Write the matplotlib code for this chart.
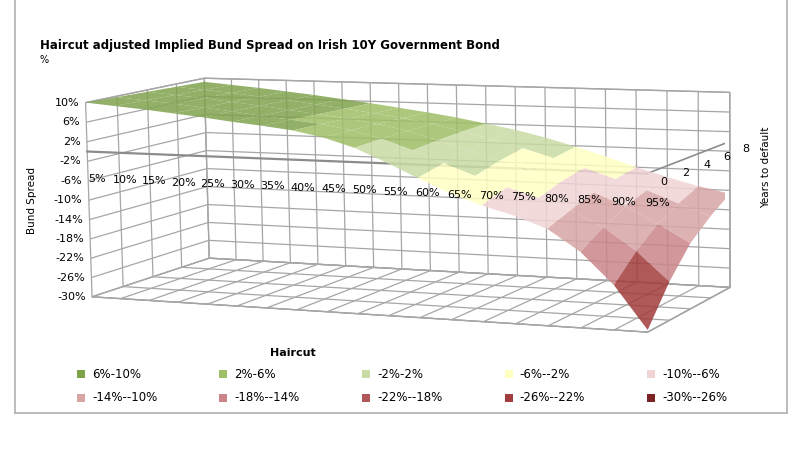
import matplotlib
matplotlib.use("Agg")
import matplotlib.pyplot as plt
from matplotlib.colors import ListedColormap, BoundaryNorm
from matplotlib.lines import Line2D
from matplotlib.patches import Rectangle
from mpl_toolkits.mplot3d import proj3d
import numpy as np

# haircut (%) along the front, years to default going back
haircut = [5, 10, 15, 20, 25, 30, 35, 40, 45, 50, 55, 60, 65, 70, 75, 80, 85, 90, 95]
years = [0, 2, 4, 6, 8]

# implied bund spread (%), one row per years-to-default value
spread_y0 = [10.0, 9.5, 9.0, 8.4, 7.8, 7.1, 6.5, 5.8, 4.6, 2.8, 0.2, -2.6, -5.3, -7.4, -9.1, -11.3, -15.4, -21.4, -29.6]
spread_y2 = [9.8, 9.3, 8.8, 8.2, 7.6, 6.9, 6.3, 5.6, 4.6, 3.1, 1.0, -1.3, -3.6, -5.6, -7.4, -9.5, -12.6, -16.9, -22.5]
spread_y4 = [9.6, 9.1, 8.6, 8.0, 7.4, 6.7, 6.0, 5.3, 4.4, 3.2, 1.5, -0.3, -2.2, -4.0, -5.8, -7.8, -10.3, -13.5, -17.0]
spread_y6 = [9.4, 8.9, 8.4, 7.8, 7.2, 6.5, 5.8, 5.0, 4.2, 3.2, 1.8, 0.4, -1.2, -3.0, -4.8, -6.8, -8.8, -11.2, -13.5]
spread_y8 = [9.2, 8.7, 8.2, 7.6, 7.0, 6.3, 5.6, 4.8, 4.0, 3.1, 2.0, 0.9, -0.5, -2.2, -4.0, -6.0, -7.8, -9.4, -10.7]

# colour bands, lowest first
levels = [-30, -26, -22, -18, -14, -10, -6, -2, 2, 6, 10]
band_colors = ["#7d2222", "#a33c3c", "#b05858", "#c98589", "#d8a5a5",
               "#f2d4d4", "#ffffc2", "#c8dba4", "#9fbf66", "#7fa24c"]

TITLE = "Haircut adjusted Implied Bund Spread on Irish 10Y Government Bond"
GRID = "#a6a6a6"
W, H = 800, 467

plt.rcParams["font.family"] = ["DejaVu Sans"]


def band_label(lo, hi):
    return f"{lo}%-{hi}%"


def to_fig(ax, fig, x, y, z):
    """Project a 3D data point to figure coordinates."""
    px, py, _ = proj3d.proj_transform(x, y, z, ax.get_proj())
    disp = ax.transData.transform((px, py))
    return fig.transFigure.inverted().transform(disp)


def main():
    fig = plt.figure(figsize=(8, 4.67), dpi=100)

    ax = fig.add_axes([-0.155, -0.134, 1.31, 1.394], projection="3d")
    ax.set_proj_type("persp", focal_length=0.8)
    ax.view_init(elev=8, azim=-66, roll=1.0)
    ax.set_box_aspect((4.8, 2.05, 1.6))

    X, Y = np.meshgrid(haircut, years)
    Z = np.array([spread_y0, spread_y2, spread_y4, spread_y6, spread_y8])

    cmap = ListedColormap(band_colors)
    norm = BoundaryNorm(levels, cmap.N)
    ax.plot_surface(X, Y, Z, cmap=cmap, norm=norm, shade=False, alpha=0.85)

    x0, x1 = haircut[0], haircut[-1]
    y0, y1 = years[0], years[-1]
    ax.set_xlim(x0, x1)
    ax.set_ylim(y0, y1)
    ax.set_zlim(levels[0], levels[-1])
    ax.set_xticks(haircut)
    ax.set_yticks(years)
    ax.set_zticks(levels)
    ax.set_xticklabels([])
    ax.set_yticklabels([])
    ax.set_zticklabels([])

    for axis in (ax.xaxis, ax.yaxis, ax.zaxis):
        axis.set_pane_color((1, 1, 1, 1))
        axis.pane.set_edgecolor(GRID)
        axis.line.set_color(GRID)
        axis._axinfo["tick"]["inward_factor"] = 0
        axis._axinfo["tick"]["outward_factor"] = 0
        axis._axinfo["grid"]["color"] = GRID
        axis._axinfo["grid"]["linewidth"] = 0.9

    # axis lines crossing at zero
    ax.plot([x0, x1], [y0, y0], [0, 0], color="#8c8c8c", lw=1.6)
    ax.plot([x1, x1], [y0, y1], [0, 0], color="#8c8c8c", lw=1.2)

    fig.canvas.draw()

    for h in haircut:
        fx, fy = to_fig(ax, fig, h + 1.5, y0, -5.5)
        fig.text(fx, fy, f"{h}%", ha="center", va="center", fontsize=8)
    for yv in years:
        fx, fy = to_fig(ax, fig, x1 + 2, yv, -1.5)
        fig.text(fx, fy, f"{yv}", ha="left", va="center", fontsize=8)
    for v in levels:
        fx, fy = to_fig(ax, fig, x0, y0, v)
        fig.text(fx - 0.008, fy, f"{v}%", ha="right", va="center", fontsize=8)

    fig.text(40 / W, 1 - 45 / H, TITLE, fontsize=8.5, fontweight="bold",
             va="center")
    fig.text(40 / W, 1 - 60 / H, "%", fontsize=7, va="center")
    fig.text(32 / W, 1 - 200 / H, "Bund Spread", rotation=90, fontsize=7.5,
             ha="center", va="center")
    fig.text(766 / W, 1 - 167 / H, "Years to default", rotation=90,
             fontsize=7.5, ha="center", va="center")
    fig.text(293 / W, 1 - 353 / H, "Haircut", fontsize=8, fontweight="bold",
             ha="center", va="center")

    # legend, highest band first, five per row
    bands = list(zip(levels[:-1], levels[1:], band_colors))[::-1]
    for i, (lo, hi, col) in enumerate(bands):
        px = 77 + (i % 5) * 142.5
        py = 374 + (i // 5) * 23.5
        fig.patches.append(Rectangle((px / W, 1 - (py + 4) / H), 8 / W, 8 / H,
                                     transform=fig.transFigure, facecolor=col,
                                     edgecolor="none"))
        fig.text((px + 15) / W, 1 - py / H, band_label(lo, hi), fontsize=8.5,
                 va="center")

    # chart border
    for xs, ys in (([15, 15], [0, 413]), ([787, 787], [0, 413]), ([15, 787], [413, 413])):
        fig.lines.append(Line2D([x / W for x in xs], [1 - y / H for y in ys],
                                transform=fig.transFigure, color="#b0b0b0", lw=1.2))

    fig.savefig("out.png", dpi=100)


if __name__ == "__main__":
    main()
